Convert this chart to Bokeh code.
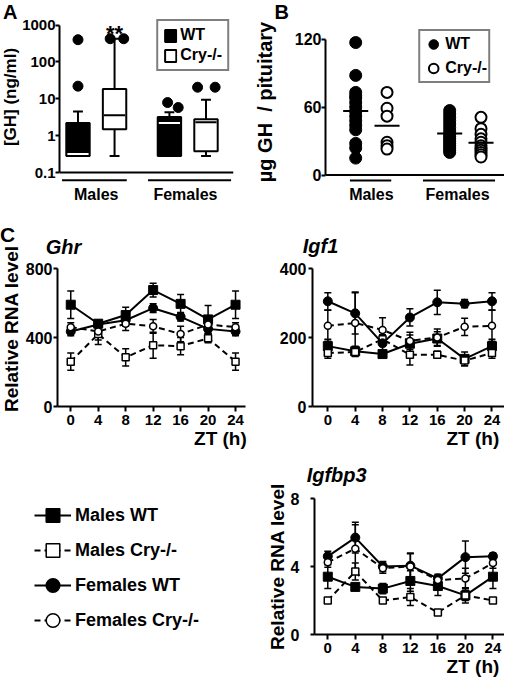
import math
from bokeh.plotting import figure
from bokeh.models import (Range1d, FixedTicker, CustomJSTickFormatter, Span, Label, LinearAxis,
                          Legend, LegendItem, Whisker, TeeHead, ColumnDataSource, Div)
from bokeh.layouts import column, row
from bokeh.embed import file_html
from bokeh.resources import INLINE

FONT = "Liberation Sans"

# ---------------- Panel A : serum GH (box plots, log scale) ----------------
a_groups = ["Males", "Females"]
a_box_group = ["Males", "Males", "Females", "Females"]
a_box_genotype = ["WT", "Cry-/-", "WT", "Cry-/-"]
a_whisker_low = [0.28, 0.28, 0.28, 0.28]
a_q1 = [0.28, 1.5, 0.28, 0.38]
a_median = [0.32, 3.6, 2.2, 2.3]
a_q3 = [2.2, 18.3, 3.2, 2.8]
a_whisker_high = [4.5, 425.0, 4.3, 9.4]
a_outliers = [[22.0, 400.0], [425.0, 425.0], [7.9, 5.8], [20.6, 20.6]]
a_significance = ["", "**", "", ""]
a_ticks = [0.1, 1, 10, 100, 1000]

# ---------------- Panel B : pituitary GH content (dot plots) ----------------
b_groups = ["Males", "Females"]
b_males_wt = [117, 88, 73, 70, 68, 64, 60, 56, 52, 48, 44, 40, 28, 24, 15]
b_males_cry = [73, 59, 52, 29, 26, 23]
b_females_wt = [57, 54, 51, 48, 45, 42, 39, 36, 34, 32, 30, 28, 26, 24, 22, 20]
b_females_cry = [51, 41, 36, 32, 29, 26, 24, 22, 20, 18, 16]
b_ticks = [0, 60, 120]

# ---------------- Panel C : RNA levels over ZT ----------------
zt = [0, 4, 8, 12, 16, 20, 24]
series_names = ["Males WT", "Males Cry-/-", "Females WT", "Females Cry-/-"]

ghr_males_wt = [590, 480, 530, 675, 595, 505, 590]
ghr_males_wt_sem = [80, 20, 45, 40, 55, 80, 80]
ghr_males_cry = [260, 420, 285, 355, 350, 395, 260]
ghr_males_cry_sem = [50, 60, 50, 75, 50, 25, 50]
ghr_females_wt = [435, 475, 500, 570, 520, 450, 435]
ghr_females_wt_sem = [25, 20, 35, 25, 25, 25, 25]
ghr_females_cry = [460, 435, 480, 465, 420, 475, 460]
ghr_females_cry_sem = [25, 50, 40, 40, 45, 20, 25]
ghr_ticks = [0, 400, 800]

igf1_males_wt = [175, 160, 152, 182, 197, 138, 175]
igf1_males_wt_sem = [20, 15, 10, 25, 20, 20, 20]
igf1_males_cry = [155, 158, 195, 150, 150, 133, 155]
igf1_males_cry_sem = [15, 10, 20, 30, 10, 15, 15]
igf1_females_wt = [305, 270, 183, 258, 302, 298, 305]
igf1_females_wt_sem = [25, 60, 25, 25, 35, 12, 25]
igf1_females_cry = [234, 242, 222, 190, 200, 231, 234]
igf1_females_cry_sem = [45, 90, 35, 25, 25, 25, 45]
igf1_ticks = [0, 200, 400]

igfbp3_males_wt = [3.4, 2.8, 2.7, 3.15, 2.85, 2.3, 3.4]
igfbp3_males_wt_sem = [0.7, 0.2, 0.3, 0.6, 0.55, 0.45, 0.7]
igfbp3_males_cry = [2.0, 3.7, 2.0, 2.2, 1.3, 2.3, 2.0]
igfbp3_males_cry_sem = [0.1, 0.5, 0.1, 0.5, 0.1, 0.3, 0.1]
igfbp3_females_wt = [4.6, 5.7, 4.0, 4.05, 3.3, 4.55, 4.6]
igfbp3_females_wt_sem = [0.3, 0.9, 0.3, 0.7, 0.25, 0.95, 0.2]
igfbp3_females_cry = [4.25, 5.05, 3.9, 4.0, 3.2, 3.3, 4.2]
igfbp3_females_cry_sem = [0.3, 1.4, 0.3, 0.8, 0.3, 0.6, 0.3]
igfbp3_ticks = [0, 4, 8]

# ---------------- layout constants (positions / styles) ----------------
A_POS = [0.5, 1.5, 3.0, 4.0]
A_LABEL_POS = [1.0, 3.4375]
A_GROUP_LINES = [(0.064, 1.834), (2.415, 4.686)]
A_GROUP_LINE_Y = 0.062
A_OUTLIER_DX = [[0.0, 0.0], [-0.12, 0.25], [-0.05, 0.24], [-0.23, 0.25]]
A_STAR_Y = 600
B_POS = {"Males": (1, 2), "Females": (4, 5)}
B_LABEL_POS = [1.5, 4.25]
B_GROUP_LINES = [(0.816, 2.135), (3.147, 5.448)]
B_GROUP_LINE_Y = -4.8

STYLES = {
    "Males WT": dict(marker="square", dash="solid", fill="black", size=9),
    "Males Cry-/-": dict(marker="square", dash="6 4", fill="white", size=7),
    "Females WT": dict(marker="circle", dash="solid", fill="black", size=9),
    "Females Cry-/-": dict(marker="circle", dash="6 4", fill="white", size=7),
}


def safe_set(obj, **kw):
    for k, v in kw.items():
        try:
            setattr(obj, k, v)
        except Exception:
            pass


def base_fig(w, h, l, r, t, b, xr, yr, y_type="linear", axes=True):
    kw = dict(width=w, height=h, x_range=xr, y_range=yr, y_axis_type=y_type,
              output_backend="svg", toolbar_location=None,
              min_border_left=l, min_border_right=r, min_border_top=t,
              min_border_bottom=b)
    if not axes:
        kw.update(x_axis_type=None, y_axis_type=None)
    p = figure(**kw)
    p.outline_line_color = None
    if axes:
        p.xgrid.visible = False
        p.ygrid.visible = False
    p.background_fill_color = "white"
    p.border_fill_color = "white"
    p.toolbar.logo = None
    return p


def style_axis(ax, size="16px", standoff=2, tick_out=4):
    ax.axis_line_width = 2
    ax.axis_line_color = "black"
    ax.major_tick_line_width = 2
    ax.major_tick_line_color = "black"
    ax.major_tick_out = tick_out
    ax.major_tick_in = 0
    ax.minor_tick_line_color = None
    ax.major_label_text_font = FONT
    ax.major_label_text_font_style = "bold"
    ax.major_label_text_font_size = size
    ax.major_label_text_color = "black"
    ax.major_label_standoff = standoff
    ax.axis_label_text_font = FONT
    ax.axis_label_text_font_style = "bold"
    ax.axis_label_text_font_size = "19px"
    ax.axis_label_text_color = "black"


def bare_axis(ax, size, style, standoff):
    ax.axis_line_color = None
    ax.major_tick_line_color = None
    ax.minor_tick_line_color = None
    ax.major_tick_out = 0
    ax.major_tick_in = 0
    ax.major_label_standoff = standoff
    ax.major_label_text_font = FONT
    ax.major_label_text_font_style = style
    ax.major_label_text_font_size = size
    ax.major_label_text_color = "black"


def group_axis(ax, positions, names):
    ax.ticker = FixedTicker(ticks=positions)
    ax.formatter = CustomJSTickFormatter(args=dict(pos=positions, names=names), code="""
        let best = 0;
        for (let i = 0; i < pos.length; i++) {
            if (Math.abs(pos[i] - tick) < Math.abs(pos[best] - tick)) { best = i; }
        }
        return names[best];
    """)
    bare_axis(ax, "16px", "bold", 2)


def text_axis(p, side, pos, text, size, style, standoff):
    ax = LinearAxis(ticker=FixedTicker(ticks=[pos]),
                    formatter=CustomJSTickFormatter(args=dict(label=text), code="return label;"))
    bare_axis(ax, size, style, standoff)
    p.add_layout(ax, side)


ASC = 0.8465  # baseline position inside a line box of line-height 1 (Liberation Sans)


def text_strip(w, h, flat, rotated):
    """flat: (text, left, baseline, size); rotated: (text, baseline_x, center_y, size)"""
    common = ("position:absolute;margin:0;padding:0;line-height:1;white-space:pre;"
              "font-family:'Liberation Sans',Arial,sans-serif;font-weight:bold;color:#000;")
    parts = []
    for text, left, base, size in flat:
        parts.append('<div style="%sleft:%.1fpx;top:%.1fpx;font-size:%dpx;">%s</div>'
                     % (common, left, base - ASC * size, size, text))
    for text, bx, cy, size in rotated:
        cx = bx - (ASC - 0.5) * size
        parts.append('<div style="%sleft:%.1fpx;top:%.1fpx;font-size:%dpx;'
                     'transform:translate(-50%%,-50%%) rotate(-90deg);">%s</div>'
                     % (common, cx, cy, size, text))
    html = ('<div style="position:relative;width:%dpx;height:%dpx;overflow:visible;">%s</div>'
            % (w, h, "".join(parts)))
    d = Div(text=html, width=w, height=h, styles={"overflow": "visible"})
    safe_set(d, margin=0, sizing_mode="fixed")
    return d


def sel(lst, idx):
    return [lst[i] for i in idx]


# ======================= Panel A =======================
sA = text_strip(19, 205, [("A", 2.9, 19.0, 20)], [("[GH] (ng/ml)", 15.4, 96.8, 17)])

pA = base_fig(233, 205, 38, 19, 15, 19, Range1d(-0.0055, 4.752), Range1d(0.0506, 1811), "log")
ya = pA.yaxis[0]
style_axis(ya, "15px", standoff=0)
ya.ticker = FixedTicker(ticks=a_ticks)
ya.formatter = CustomJSTickFormatter(code="return String(tick);")
ya.bounds = (0.1, 1000)
group_axis(pA.xaxis[0], A_LABEL_POS, a_groups)

pA.add_layout(Span(location=0.1, dimension="width", line_color="black", line_width=2))
pA.segment(x0=[g[0] for g in A_GROUP_LINES], x1=[g[1] for g in A_GROUP_LINES],
           y0=[A_GROUP_LINE_Y] * 2, y1=[A_GROUP_LINE_Y] * 2, line_color="black", line_width=2)

cap = 0.135
pA.segment(x0=A_POS, x1=A_POS, y0=a_whisker_low, y1=a_q1, line_color="black", line_width=2)
pA.segment(x0=A_POS, x1=A_POS, y0=a_q3, y1=a_whisker_high, line_color="black", line_width=2)
pA.segment(x0=[x - cap for x in A_POS], x1=[x + cap for x in A_POS],
           y0=a_whisker_high, y1=a_whisker_high, line_color="black", line_width=2)
pA.segment(x0=[x - cap for x in A_POS], x1=[x + cap for x in A_POS],
           y0=a_whisker_low, y1=a_whisker_low, line_color="black", line_width=2)

wt_i = [i for i, g in enumerate(a_box_genotype) if g == "WT"]
cry_i = [i for i, g in enumerate(a_box_genotype) if g != "WT"]
rA_wt = pA.vbar(x=sel(A_POS, wt_i), bottom=sel(a_q1, wt_i), top=sel(a_q3, wt_i), width=0.64,
                fill_color="black", line_color="black", line_width=2)
rA_cry = pA.vbar(x=sel(A_POS, cry_i), bottom=sel(a_q1, cry_i), top=sel(a_q3, cry_i), width=0.64,
                 fill_color="white", line_color="black", line_width=2)
med_col = ["white" if g == "WT" else "black" for g in a_box_genotype]
pA.segment(x0=[x - 0.29 for x in A_POS], x1=[x + 0.29 for x in A_POS],
           y0=a_median, y1=a_median, line_color=med_col, line_width=2)

ox, oy = [], []
for i, vals in enumerate(a_outliers):
    for v, dx in zip(vals, A_OUTLIER_DX[i]):
        ox.append(A_POS[i] + dx)
        oy.append(v)
pA.scatter(ox, oy, size=10, marker="circle", color="black")

for i, s in enumerate(a_significance):
    if s:
        pA.add_layout(Label(x=A_POS[i], y=A_STAR_Y, text=s, text_font=FONT, text_font_style="bold",
                            text_font_size="22px", text_align="center",
                            text_baseline="alphabetic", text_color="black"))

legA = Legend(items=[LegendItem(label="WT", renderers=[rA_wt]),
                     LegendItem(label="Cry-/-", renderers=[rA_cry])],
              location="top_right")
safe_set(legA, border_line_color="black", border_line_width=2, background_fill_color="white",
         background_fill_alpha=1.0, label_text_font=FONT, label_text_font_style="bold",
         label_text_font_size="16px", label_text_color="black", glyph_width=14, glyph_height=15,
         label_height=15, spacing=2, padding=5, label_standoff=3, margin=4)
pA.add_layout(legA)

# ======================= Panel B =======================
sB = text_strip(39, 205, [("B", 22.5, 19.0, 20)], [("µg GH  / pituitary", 19.6, 101.8, 20)])

pB = base_fig(213, 205, 31, 0, 4, 19, Range1d(0.036, 5.75), Range1d(-7.41, 140.86))
yb = pB.yaxis[0]
style_axis(yb, "16px", standoff=0)
yb.ticker = FixedTicker(ticks=b_ticks)
yb.bounds = (0, 120)
group_axis(pB.xaxis[0], B_LABEL_POS, b_groups)

pB.add_layout(Span(location=0, dimension="width", line_color="black", line_width=2))
pB.segment(x0=[g[0] for g in B_GROUP_LINES], x1=[g[1] for g in B_GROUP_LINES],
           y0=[B_GROUP_LINE_Y] * 2, y1=[B_GROUP_LINE_Y] * 2, line_color="black", line_width=2)

wt_x = [B_POS["Males"][0]] * len(b_males_wt) + [B_POS["Females"][0]] * len(b_females_wt)
wt_y = b_males_wt + b_females_wt
cry_x = [B_POS["Males"][1]] * len(b_males_cry) + [B_POS["Females"][1]] * len(b_females_cry)
cry_y = b_males_cry + b_females_cry
rB_wt = pB.scatter(wt_x, wt_y, marker="circle", size=12, fill_color="black", line_color="black")
rB_cry = pB.scatter(cry_x, cry_y, marker="circle", size=11, fill_color="white", line_color="black",
                    line_width=2)
means = [(B_POS["Males"][0], b_males_wt), (B_POS["Males"][1], b_males_cry),
         (B_POS["Females"][0], b_females_wt), (B_POS["Females"][1], b_females_cry)]
mx = [m[0] for m in means]
my = [sum(m[1]) / len(m[1]) for m in means]
pB.segment(x0=[x - 0.4 for x in mx], x1=[x + 0.4 for x in mx], y0=my, y1=my,
           line_color="black", line_width=2)

legB = Legend(items=[LegendItem(label="WT", renderers=[rB_wt]),
                     LegendItem(label="Cry-/-", renderers=[rB_cry])],
              location="top_right")
safe_set(legB, border_line_color="black", border_line_width=2, background_fill_color="white",
         background_fill_alpha=1.0, label_text_font=FONT, label_text_font_style="bold",
         label_text_font_size="16px", label_text_color="black", glyph_width=24, glyph_height=24,
         label_height=15, padding=1, label_standoff=0, margin=14)
safe_set(legB, spacing=-7)
pB.add_layout(legB)


# ======================= Panel C =======================
def rna_panel(w, h, l, r, t, b, xr, yr, yticks, data, ylab_standoff, gene, gene_x, gene_standoff,
              zt_x, ylabel=None):
    p = base_fig(w, h, l, r, t, b, xr, yr)
    yax = p.yaxis[0]
    style_axis(yax, "16px", standoff=ylab_standoff)
    yax.ticker = FixedTicker(ticks=yticks)
    if ylabel:
        yax.axis_label = ylabel
        yax.axis_label_standoff = 0
    xax = p.xaxis[0]
    style_axis(xax, "15px", standoff=3, tick_out=5)
    xax.ticker = FixedTicker(ticks=zt)
    text_axis(p, "below", zt_x, "ZT (h)", "19px", "bold", 0)
    text_axis(p, "above", gene_x, gene, "20px", "bold italic", gene_standoff)
    sources = []
    for name, (vals, sem) in zip(series_names, data):
        st = STYLES[name]
        src = ColumnDataSource(dict(x=zt, y=vals,
                                    lower=[v - e for v, e in zip(vals, sem)],
                                    upper=[v + e for v, e in zip(vals, sem)]))
        sources.append(src)
        p.add_layout(Whisker(source=src, base="x", lower="lower", upper="upper",
                             line_color="black", line_width=1.5,
                             upper_head=TeeHead(size=7, line_color="black", line_width=1.5),
                             lower_head=TeeHead(size=7, line_color="black", line_width=1.5)))
        p.line("x", "y", source=src, line_color="black", line_width=2, line_dash=st["dash"])
        p.scatter("x", "y", source=src, marker=st["marker"], size=st["size"],
                  fill_color=st["fill"], line_color="black",
                  line_width=1.5 if st["fill"] == "white" else 1)
    return p, sources


sC = text_strip(22, 250, [("C", 0.0, 37.0, 21)], [("Relative RNA level", 17.5, 124.0, 19)])

pGhr, _ = rna_panel(230, 250, 33, 7, 63, 48, Range1d(-1.93, 25.45), Range1d(0, 800), ghr_ticks,
                    [(ghr_males_wt, ghr_males_wt_sem), (ghr_males_cry, ghr_males_cry_sem),
                     (ghr_females_wt, ghr_females_wt_sem), (ghr_females_cry, ghr_females_cry_sem)],
                    1, "Ghr", -1.06, 11, 21.8)

pIgf1, _ = rna_panel(252, 250, 60, 0, 61, 49, Range1d(-2.24, 25.83), Range1d(0, 400), igf1_ticks,
                     [(igf1_males_wt, igf1_males_wt_sem), (igf1_males_cry, igf1_males_cry_sem),
                      (igf1_females_wt, igf1_females_wt_sem),
                      (igf1_females_cry, igf1_females_cry_sem)],
                     2, "Igf1", -1.07, 12, 21.2)

pIgfbp3, bp3_sources = rna_panel(
    252, 227, 62, 0, 37, 48, Range1d(-1.93, 25.68), Range1d(0, 8), igfbp3_ticks,
    [(igfbp3_males_wt, igfbp3_males_wt_sem), (igfbp3_males_cry, igfbp3_males_cry_sem),
     (igfbp3_females_wt, igfbp3_females_wt_sem), (igfbp3_females_cry, igfbp3_females_cry_sem)],
    11, "Igfbp3", 1.29, 13, 21.1, "Relative RNA level")

# legend panel for C: its renderers share the Igfbp3 data, kept out of view (legend swatches only)
pLeg = base_fig(252, 227, 34, 0, 43, 0, Range1d(-100, -99), Range1d(-100, -99), axes=False)
items = []
for name, src in zip(series_names, bp3_sources):
    st = STYLES[name]
    lr = pLeg.line("x", "y", source=src, line_color="black", line_width=2, line_dash=st["dash"])
    sr = pLeg.scatter("x", "y", source=src, marker=st["marker"], size=st["size"],
                      fill_color=st["fill"], line_color="black", line_width=1.5)
    items.append(LegendItem(label=name, renderers=[lr, sr]))
legC = Legend(items=items, location="top_left")
safe_set(legC, border_line_color=None, background_fill_alpha=0.0, label_text_font=FONT,
         label_text_font_style="bold", label_text_font_size="18px", label_text_color="black",
         glyph_width=37, glyph_height=34, label_height=20, spacing=1, padding=0,
         label_standoff=4, margin=0)
pLeg.add_layout(legC)

layout = column(row(sA, pA, sB, pB), row(sC, pGhr, pIgf1), row(pLeg, pIgfbp3))
open("out.html", "w").write(file_html(layout, INLINE))
